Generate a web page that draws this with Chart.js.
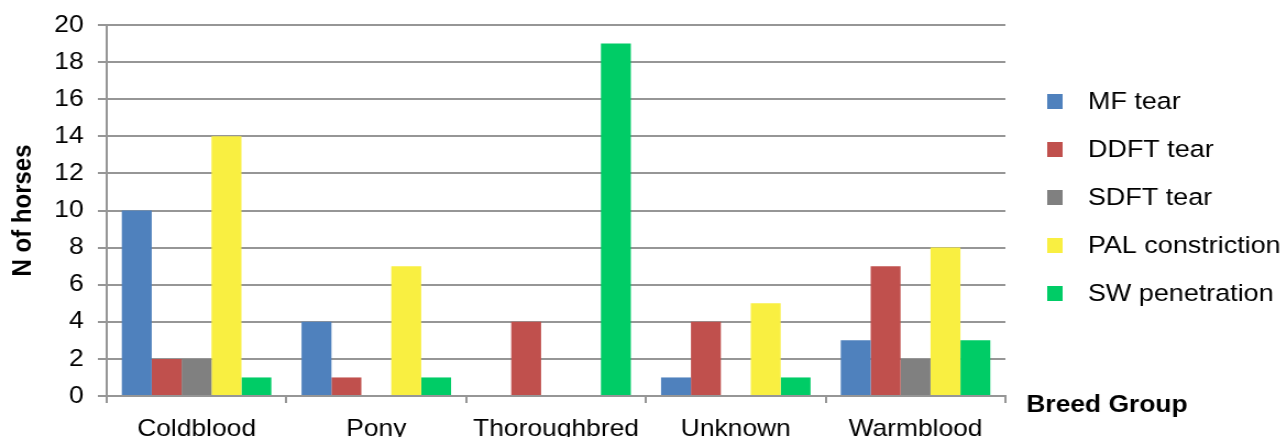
<!DOCTYPE html>
<html>
<head>
<meta charset="utf-8">
<script src="https://cdn.jsdelivr.net/npm/chart.js@4/dist/chart.umd.min.js"></script>
<style>
  html, body { margin: 0; padding: 0; background: #ffffff; overflow: hidden; }
  #wrap { width: 1285px; height: 437px; overflow: hidden; }
  /* the drawing is laid out on a narrower canvas and widened by 10% */
  #chart { display: block; transform: scaleX(1.1); transform-origin: 0 0; }
</style>
</head>
<body>
<div id="wrap"><canvas id="chart" width="1169" height="437"></canvas></div>
<script>
const categories = ['Coldblood', 'Pony', 'Thoroughbred', 'Unknown', 'Warmblood'];
const seriesNames = ['MF tear', 'DDFT tear', 'SDFT tear', 'PAL constriction', 'SW penetration'];
const mfTear        = [10, 4, 0, 1, 3];
const ddftTear      = [2, 1, 4, 4, 7];
const sdftTear      = [2, 0, 0, 0, 2];
const palConstrict  = [14, 7, 0, 5, 8];
const swPenetration = [1, 1, 19, 1, 3];
const seriesColors = ['#4F81BD', '#C0504D', '#808080', '#F9EF41', '#00CC66'];
const yTicks = [0, 2, 4, 6, 8, 10, 12, 14, 16, 18, 20];
const yTitle = 'N of horses';
const xTitle = 'Breed Group';

const FONT = '"Liberation Sans", Arial, Helvetica, sans-serif';
const GRID = '#969696';

const seriesValues = [mfTear, ddftTear, sdftTear, palConstrict, swPenetration];
const datasets = seriesNames.map((name, i) => ({
  label: name,
  data: seriesValues[i],
  backgroundColor: seriesColors[i],
  borderWidth: 0,
  categoryPercentage: 0.832,
  barPercentage: 1.0
}));

// legend on the right and the x-axis caption next to the axis
const sideText = {
  id: 'sideText',
  afterDraw(chart) {
    const ctx = chart.ctx;
    ctx.save();
    ctx.textBaseline = 'middle';
    ctx.textAlign = 'left';
    ctx.font = '24.5px ' + FONT;
    chart.data.datasets.forEach((ds, i) => {
      const cy = 101.5 + i * 48;
      ctx.fillStyle = ds.backgroundColor;
      ctx.fillRect(952, cy - 7.5, 14, 15);
      ctx.fillStyle = '#000000';
      ctx.fillText(ds.label, 989, cy + 1);
    });
    ctx.font = 'bold 24px ' + FONT;
    ctx.textBaseline = 'alphabetic';
    ctx.fillText(xTitle, 933, 412);
    ctx.restore();
  }
};

new Chart(document.getElementById('chart'), {
  type: 'bar',
  data: { labels: categories, datasets },
  plugins: [sideText],
  options: {
    responsive: false,
    animation: false,
    devicePixelRatio: 1,
    layout: { padding: { left: 0, right: 255, top: 25, bottom: 0 } },
    plugins: {
      legend: { display: false },
      tooltip: { enabled: false }
    },
    scales: {
      x: {
        afterFit(scale) { scale.height = 41; },
        grid: { display: true, drawOnChartArea: false, drawTicks: true, tickLength: 7, color: GRID, lineWidth: 2, offset: true },
        border: { display: true, color: GRID, width: 2 },
        ticks: { color: '#000000', font: { family: FONT, size: 24 }, padding: 12, maxRotation: 0, autoSkip: false }
      },
      y: {
        min: 0,
        max: 20,
        afterFit(scale) {
          scale.width = 97;
          scale.paddingTop = 0;
          scale.paddingBottom = 0;
        },
        afterBuildTicks(scale) { scale.ticks = yTicks.map(v => ({ value: v })); },
        grid: { color: GRID, lineWidth: 2, tickLength: 8 },
        border: { display: true, color: GRID, width: 2 },
        ticks: { color: '#000000', font: { family: FONT, size: 24 }, padding: 13 },
        title: {
          display: true,
          text: yTitle,
          color: '#000000',
          font: { family: FONT, size: 24, weight: 'bold' },
          padding: { top: 7, bottom: 0 }
        }
      }
    }
  }
});
</script>
</body>
</html>
